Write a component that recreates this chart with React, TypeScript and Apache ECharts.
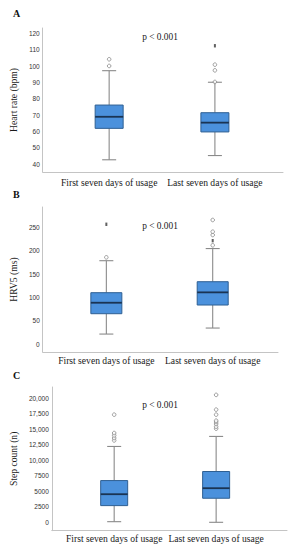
import React, { useEffect, useRef } from "react";
import * as echarts from "echarts";

const categories = ["First seven days of usage", "Last seven days of usage"];

// [min, Q1, median, Q3, max]
const hrBoxes = [
  [42.6, 61.9, 69.0, 76.2, 97.3],
  [45.2, 59.7, 65.4, 71.5, 90.2],
];
const hrOutliers = [[0, 100.2], [0, 104.3], [1, 90.4], [1, 97.5], [1, 101.0]];
const hrExtremes = [[1, 112.6]];
const hrTicks = [40, 50, 60, 70, 80, 90, 100, 110, 120];

const hrvBoxes = [
  [21.4, 65, 88.5, 110, 178.5],
  [34.3, 83.6, 110.7, 133.5, 204.5],
];
const hrvOutliers = [[0, 185.7], [1, 211.5], [1, 233.6], [1, 240.6], [1, 265.7]];
const hrvExtremes = [[0, 256.5], [1, 221.4]];
const hrvTicks = [0, 50, 100, 150, 200, 250];

const stepBoxes = [
  [100, 2690, 4530, 6730, 12230],
  [0, 3880, 5500, 8190, 13850],
];
const stepOutliers = [
  [0, 13200], [0, 13590], [0, 14010], [0, 14400], [0, 17360],
  [1, 15100], [1, 15420], [1, 15860], [1, 16180], [1, 16390], [1, 17360], [1, 18170], [1, 20550],
];
const stepExtremes: number[][] = [];
const stepTicks = [0, 2500, 5000, 7500, 10000, 12500, 15000, 17500, 20000];

const panels = [
  {
    letter: "A", name: "Heart rate (bpm)", boxes: hrBoxes, outliers: hrOutliers, extremes: hrExtremes, ticks: hrTicks,
    grid: { left: 36, top: 28, width: 247, height: 144 }, xMin: -0.628, xMax: 1.644, yMin: 35.1, yMax: 123.5,
    boxW: 28, labelMargin: 5, nameGap: 17, letterY: 13.5, pY: 37,
  },
  {
    letter: "B", name: "HRV5 (ms)", boxes: hrvBoxes, outliers: hrvOutliers, extremes: hrvExtremes, ticks: hrvTicks,
    grid: { left: 34, top: 207, width: 244, height: 145 }, xMin: -0.598, xMax: 1.614, yMin: -17, yMax: 293.5,
    boxW: 31, labelMargin: 3, nameGap: 17, letterY: 194, pY: 226,
  },
  {
    letter: "C", name: "Step count (n)", boxes: stepBoxes, outliers: stepOutliers, extremes: stepExtremes, ticks: stepTicks,
    grid: { left: 43, top: 387, width: 244, height: 143.7 }, xMin: -0.612, xMax: 1.695, yMin: -1355, yMax: 21820,
    boxW: 27, labelMargin: 3, nameGap: 26, letterY: 375.5, pY: 405,
  },
];

const SERIF = "'Liberation Serif', 'DejaVu Serif', serif";
const SANS = "'Liberation Sans', Arial, sans-serif";
const AXIS_COLOR = "#c4c4c4";

function fmtTick(v: number) {
  if (v >= 10000) return v.toLocaleString("en-US");
  return String(v);
}

export default function App() {
  const ref = useRef<HTMLDivElement>(null);
  useEffect(() => {
    if (!ref.current) return;
    const chart = echarts.init(ref.current, undefined, { renderer: "svg" });
    const grids: any[] = [];
    const xAxes: any[] = [];
    const yAxes: any[] = [];
    const series: any[] = [];
    const graphics: any[] = [];

    panels.forEach((p, i) => {
      grids.push({ ...p.grid, containLabel: false });
      xAxes.push({
        type: "value",
        gridIndex: i,
        min: p.xMin,
        max: p.xMax,
        axisLine: { show: true, onZero: false, lineStyle: { color: AXIS_COLOR, width: 1 } },
        axisTick: { show: false },
        splitLine: { show: false },
        axisLabel: {
          customValues: [0, 1],
          formatter: (v: number) => categories[Math.round(v)] ?? "",
          fontFamily: SERIF,
          fontSize: 9.6,
          color: "#1a1a1a",
          margin: p.labelMargin,
        },
      });
      yAxes.push({
        type: "value",
        gridIndex: i,
        min: p.yMin,
        max: p.yMax,
        name: p.name,
        nameLocation: "middle",
        nameGap: p.nameGap,
        nameTextStyle: { fontFamily: SERIF, fontSize: 9.6, color: "#1a1a1a" },
        axisLine: { show: true, onZero: false, lineStyle: { color: AXIS_COLOR, width: 1 } },
        axisTick: { show: false },
        splitLine: { show: false },
        axisLabel: {
          customValues: p.ticks,
          formatter: (v: number) => fmtTick(v),
          fontFamily: SANS,
          fontSize: 6.5,
          color: "#333",
          margin: 3,
        },
      });
      const boxW = p.boxW;
      series.push({
        type: "custom",
        xAxisIndex: i,
        yAxisIndex: i,
        data: p.boxes.map((b, k) => [k, ...b]),
        encode: { x: 0, y: [1, 2, 3, 4, 5] },
        renderItem: (params: any, api: any) => {
          const x = api.value(0);
          const lo = api.coord([x, api.value(1)]);
          const q1 = api.coord([x, api.value(2)]);
          const md = api.coord([x, api.value(3)]);
          const q3 = api.coord([x, api.value(4)]);
          const hi = api.coord([x, api.value(5)]);
          const cx = lo[0];
          const capW = 14;
          const wStyle = { stroke: "#8a8a8a", lineWidth: 1.1 };
          return {
            type: "group",
            children: [
              { type: "line", shape: { x1: cx, y1: q3[1], x2: cx, y2: hi[1] }, style: wStyle },
              { type: "line", shape: { x1: cx, y1: q1[1], x2: cx, y2: lo[1] }, style: wStyle },
              { type: "line", shape: { x1: cx - capW / 2, y1: hi[1], x2: cx + capW / 2, y2: hi[1] }, style: wStyle },
              { type: "line", shape: { x1: cx - capW / 2, y1: lo[1], x2: cx + capW / 2, y2: lo[1] }, style: wStyle },
              {
                type: "rect",
                shape: { x: cx - boxW / 2, y: q3[1], width: boxW, height: q1[1] - q3[1] },
                style: { fill: "#4b91dc", stroke: "#2e5f93", lineWidth: 1 },
              },
              {
                type: "line",
                shape: { x1: cx - boxW / 2, y1: md[1], x2: cx + boxW / 2, y2: md[1] },
                style: { stroke: "#1a3453", lineWidth: 1.8 },
              },
            ],
          };
        },
        z: 2,
      });
      series.push({
        type: "scatter",
        xAxisIndex: i,
        yAxisIndex: i,
        data: p.outliers,
        symbol: "circle",
        symbolSize: 3.6,
        itemStyle: { color: "#ffffff", borderColor: "#7a7a7a", borderWidth: 0.9 },
        z: 3,
      });
      series.push({
        type: "scatter",
        xAxisIndex: i,
        yAxisIndex: i,
        data: p.extremes,
        symbol: "rect",
        symbolSize: [2, 3.4],
        itemStyle: { color: "#3a3a3a" },
        z: 3,
      });
      graphics.push({
        type: "text",
        left: 13,
        top: p.letterY - 5,
        style: { text: p.letter, font: `bold 10px ${SERIF}`, fill: "#111" },
      });
      graphics.push({
        type: "text",
        x: 160,
        y: p.pY,
        style: {
          text: "p < 0.001",
          font: `9.4px ${SERIF}`,
          fill: "#1a1a1a",
          align: "center",
          verticalAlign: "middle",
        },
      });
    });

    chart.setOption({
      animation: false,
      backgroundColor: "#ffffff",
      grid: grids,
      xAxis: xAxes,
      yAxis: yAxes,
      series,
      graphic: graphics,
    });
    return () => chart.dispose();
  }, []);
  return (
    <div
      ref={ref}
      style={{ position: "fixed", left: 0, top: 0, width: 298, height: 550, background: "#fff" }}
    />
  );
}
